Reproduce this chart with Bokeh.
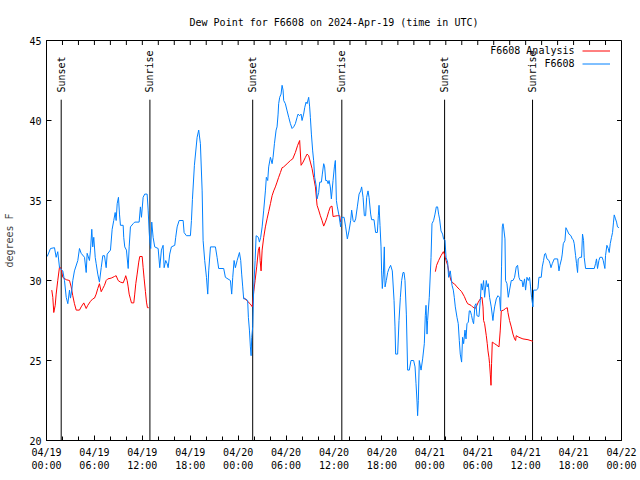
import math
from bokeh.plotting import figure
from bokeh.models import FixedTicker, Legend, LegendItem, Label, Range1d
from bokeh.core.properties import value
from bokeh.embed import file_html
from bokeh.resources import INLINE

TITLE = "Dew Point for F6608 on 2024-Apr-19 (time in UTC)"
Y_LABEL = "degrees F"
FONT = "DejaVu Sans Mono"

# F6608 observations (hours since 2024-04-19 00:00 UTC, dew point degF)
obs_hours = [0.09, 0.5, 1.0, 1.21, 1.41, 1.63, 2.04, 2.25, 2.47, 2.67, 2.88, 3.0, 3.17, 3.29, 3.5, 3.92,
             4.13, 4.34, 4.76, 4.97, 5.09, 5.38, 5.51, 5.67, 5.79, 5.92, 6.1, 6.22, 6.42, 6.63, 6.85, 7.05,
             7.26, 7.47, 7.6, 8.01, 8.22, 8.42, 8.6, 8.72, 8.85, 9.01, 9.14, 9.26, 9.6, 9.67, 9.8, 10.01,
             10.23, 10.35, 10.51, 10.85, 11.05, 11.6, 11.76, 11.89, 12.1, 12.3, 12.6, 12.73, 12.85, 12.93,
             13.05, 13.18, 13.35, 13.55, 13.98, 14.18, 14.39, 14.6, 14.73, 14.93, 15.11, 15.23, 15.43, 15.64,
             16.06, 16.18, 16.36, 16.61, 17.11, 17.23, 17.52, 18.02, 18.15, 18.27, 18.52, 18.86, 19.06, 19.27,
             19.49, 19.61, 19.81, 20.03, 20.19, 20.31, 20.53, 21.15, 21.36, 21.56, 22.19, 22.4, 23.03, 23.19,
             23.32, 23.49, 23.65, 23.87, 24.16, 24.32, 24.44, 24.57, 24.69, 24.94, 25.19, 25.28, 25.41, 25.53,
             25.62, 25.7, 25.82, 25.95, 26.12, 26.25, 26.53, 26.66, 26.82, 27.0, 27.2, 27.41, 27.53, 27.7,
             27.82, 28.04, 28.25, 28.37, 28.54, 28.75, 28.87, 29.0, 29.07, 29.2, 29.37, 29.5, 29.62, 29.7,
             29.91, 30.13, 30.33, 30.54, 30.75, 30.95, 31.16, 31.38, 31.5, 31.7, 31.88, 32.0, 32.2, 32.33,
             32.5, 32.63, 32.83, 32.95, 33.04, 33.17, 33.33, 33.45, 33.58, 33.79, 33.88, 34.08, 34.21, 34.42,
             34.54, 34.71, 34.83, 34.96, 35.13, 35.26, 35.38, 35.54, 35.67, 35.88, 36.05, 36.17, 36.3, 36.42,
             36.63, 36.83, 36.96, 37.26, 37.46, 37.67, 37.88, 38.09, 38.21, 38.39, 38.55, 38.71, 38.92, 39.14,
             39.34, 39.46, 39.64, 39.8, 39.96, 40.09, 40.26, 40.39, 40.59, 40.71, 41.01, 41.21, 41.43, 41.55,
             41.64, 41.76, 41.89, 41.96, 42.05, 42.18, 42.3, 42.39, 42.55, 42.72, 42.89, 43.09, 43.3, 43.52,
             43.64, 43.72, 43.97, 44.14, 44.31, 44.47, 44.64, 44.77, 44.89, 45.06, 45.22, 45.43, 45.64, 45.97,
             46.15, 46.27, 46.4, 46.47, 46.56, 46.68, 46.9, 47.1, 47.31, 47.43, 47.52, 47.65, 47.72, 47.93,
             48.15, 48.27, 48.47, 48.65, 48.81, 48.97, 49.1, 49.22, 49.4, 49.6, 49.72, 49.9, 50.03, 50.23,
             50.35, 50.56, 50.78, 50.94, 51.06, 51.19, 51.4, 51.56, 51.69, 51.81, 51.98, 52.1, 52.23, 52.4,
             52.53, 52.65, 52.82, 52.94, 53.07, 53.23, 53.35, 53.48, 53.65, 53.78, 53.9, 54.15, 54.32, 54.44,
             54.57, 54.73, 54.86, 55.07, 55.19, 55.32, 55.48, 55.69, 55.9, 55.98, 56.11, 56.32, 56.53, 56.73,
             56.86, 56.98, 57.07, 57.16, 57.23, 57.41, 57.48, 57.66, 57.82, 57.98, 58.2, 58.41, 58.61, 58.82,
             58.99, 59.16, 59.32, 59.54, 59.66, 59.86, 59.99, 60.16, 60.33, 60.49, 60.61, 60.74, 60.91, 60.99,
             61.33, 61.54, 61.66, 61.95, 62.08, 62.24, 62.37, 62.49, 62.67, 62.92, 63.05, 63.17, 63.33, 63.58,
             64.0, 64.17, 64.29, 64.49, 64.58, 64.71, 64.92, 65.04, 65.24, 65.42, 65.67, 65.83, 65.96, 66.08,
             66.25, 66.37, 66.5, 66.58, 66.8, 67.0, 67.12, 67.25, 67.33, 67.5, 68.59, 68.75, 68.87, 69.0,
             69.17, 69.3, 69.58, 69.71, 69.92, 70.0, 70.17, 70.34, 70.46, 70.59, 70.75, 70.88, 71.0, 71.09,
             71.25, 71.38, 71.5, 71.68]
obs_dewpt = [31.5, 32.0, 32.05, 31.45, 31.8, 30.8, 30.6, 30.0, 28.95, 28.55, 29.4, 28.9, 29.4, 30.0, 30.6, 31.25,
             32.0, 31.7, 31.45, 30.5, 31.7, 31.25, 31.9, 33.2, 32.1, 32.7, 31.45, 31.05, 30.4, 29.9, 30.8, 31.55,
             31.55, 30.8, 31.65, 31.9, 33.2, 33.75, 34.25, 33.75, 34.8, 35.2, 34.15, 33.45, 33.45, 32.7, 32.1, 31.9,
             30.75, 32.1, 33.35, 33.55, 33.65, 33.65, 34.6, 33.95, 35.2, 35.4, 35.4, 34.4, 33.1, 32.5,
             32.0, 33.65, 32.7, 32.1, 32.0, 30.8, 31.9, 32.2, 30.8, 31.25, 31.05, 30.8, 31.65, 32.1,
             32.2, 32.7, 33.35, 33.75, 33.75, 33.0, 32.8, 32.8, 33.75, 35.05, 37.2, 38.95, 39.4, 38.55,
             35.6, 32.5, 31.25, 30.2, 29.15, 30.6, 32.1, 32.1, 31.45, 30.75, 30.75, 30.2, 30.0, 29.15,
             30.2, 31.25, 30.8, 31.25, 31.75, 31.25, 30.4, 29.6, 28.85, 28.85, 28.75, 27.7, 26.9, 25.85,
             25.3, 26.45, 27.1, 29.6, 31.25, 32.8, 32.7, 32.4, 32.7, 33.35, 34.4, 35.6, 36.45, 36.25,
             37.1, 37.7, 37.3, 37.7, 38.55, 39.4, 39.6, 40.4, 41.05, 41.45, 41.65, 42.2, 41.9, 41.25,
             41.05, 40.6, 40.2, 39.8, 39.5, 39.6, 39.8, 40.2, 40.4, 40.3, 40.4, 40.0, 40.4, 40.8,
             41.15, 41.05, 41.45, 40.85, 40.2, 39.15, 38.1, 37.5, 36.45, 35.85, 35.1, 35.5, 36.15, 36.15,
             36.65, 37.3, 37.1, 36.25, 36.25, 36.05, 36.25, 35.85, 35.1, 36.25, 37.1, 37.5, 35.0, 34.6,
             34.05, 33.35, 33.95, 33.95, 33.35, 32.6, 33.1, 33.75, 34.4, 33.75, 33.65, 33.85, 34.6, 35.4,
             35.6, 35.85, 35.2, 34.05, 34.05, 35.2, 35.6, 35.2, 34.15, 33.8, 33.8, 33.0, 33.0, 34.05,
             34.7, 33.45, 32.1, 30.6, 29.5, 30.4, 32.1, 29.6, 30.0, 30.5, 30.75, 30.95, 30.6, 28.75,
             27.1, 25.4, 25.4, 27.5, 28.95, 30.0, 30.5, 30.5, 30.0, 27.9, 24.4, 24.4, 25.0, 25.0,
             24.6, 23.55, 22.4, 21.55, 22.5, 25.0, 24.4, 25.1, 26.05, 27.8, 28.45, 26.65, 27.5, 28.95,
             31.45, 33.55, 33.75, 34.15, 34.6, 34.6, 34.15, 33.85, 33.1, 32.9, 32.6, 32.5, 31.45, 31.15,
             30.2, 30.6, 29.7, 29.4, 28.95, 28.35, 27.7, 27.3, 26.25, 25.4, 24.9, 26.45, 26.05, 26.9,
             26.35, 27.3, 27.4, 28.1, 28.1, 27.8, 27.5, 27.3, 28.45, 28.55, 27.8, 27.75, 28.75, 29.8,
             29.4, 30.0, 28.95, 30.0, 29.6, 29.8, 28.95, 28.35, 27.5, 27.9, 28.35, 28.85, 29.05, 28.95,
             28.1, 30.85, 33.35, 33.55, 33.35, 32.6, 30.0, 29.8, 28.95, 29.4, 30.0, 30.0, 30.2, 30.85,
             30.95, 30.2, 30.0, 30.0, 29.6, 30.1, 29.4, 30.2, 30.0, 30.2, 29.6, 28.95, 28.35, 29.4,
             29.4, 29.5, 30.2, 30.2, 30.85, 31.25, 31.65, 31.7, 31.35, 31.25, 31.05, 30.8, 31.05, 31.35,
             31.35, 30.6, 30.95, 31.35, 31.65, 32.3, 32.5, 33.3, 33.1, 32.9, 32.8, 32.6, 32.55, 32.3,
             31.55, 31.05, 30.5, 31.35, 31.45, 31.45, 32.9, 32.5, 31.45, 30.75, 30.75, 31.05, 31.35, 30.75,
             31.25, 31.45, 31.45, 31.25, 30.75, 31.55, 32.2, 32.0, 31.75, 32.3, 32.7, 33.0, 33.65, 34.1,
             33.85, 33.65, 33.35, 33.3]

NAN = float("nan")
# F6608 Analysis (NaN marks the gaps where no analysis is available)
ana_hours = [0.66, 0.79, 0.91, 1.09, 1.21, 1.41, 1.63, 1.84, 2.04, 2.47, 2.88, 3.09, 3.29, 3.5, 3.72, 4.13,
             4.34, 4.67, 4.97, 5.17, 5.51, 5.79, 6.01, 6.22, 6.42, 6.63, 6.85, 7.05, 7.26, 7.47, 7.67, 8.1,
             8.51, 8.72, 8.97, 9.26, 9.6, 9.8, 9.92, 10.1, 10.23, 10.35, 10.51, 10.64, 10.93, 11.05, 11.18,
             11.35, 11.55, 11.68, 11.98, 12.1, 12.23, 12.39, 12.52, 12.64, 12.8, 18.0,
             24.66, 25.07, 25.49, 25.78, 25.95, 26.12, 26.32, 26.53, 26.66, 26.75, 26.87, 27.0, 27.2, 27.41,
             27.62, 27.82, 28.04, 28.25, 28.45, 28.66, 28.87, 29.07, 29.29, 29.5, 29.7, 30.13, 30.54, 30.83,
             31.16, 31.45, 31.7, 31.88, 32.13, 32.42, 32.63, 32.83, 33.04, 33.25, 33.45, 33.67, 33.88, 34.08,
             34.29, 34.5, 34.71, 34.92, 35.13, 35.33, 35.54, 35.75, 35.88, 36.42, 36.71, 36.83, 42.0,
             48.69, 48.85, 49.1, 49.4, 49.69, 49.81, 50.03, 50.23, 50.44, 50.65, 50.85, 51.06, 51.4, 51.69,
             51.98, 52.32, 52.53, 52.73, 53.15, 53.35, 53.69, 53.9, 54.07, 54.32, 54.53, 54.66, 54.73, 54.86,
             55.07, 55.19, 55.28, 55.4, 55.48, 55.57, 55.66, 55.73, 55.82, 56.11, 56.41, 56.66, 56.82, 56.95,
             57.23, 57.48, 57.7, 57.78, 57.98, 58.2, 58.41, 58.61, 58.74, 58.82, 59.16, 59.66, 60.29, 60.91]
ana_dewpt = [29.4, 28.95, 28.0, 28.45, 29.15, 30.0, 30.85, 30.75, 30.2, 30.05, 30.0, 29.6, 29.05, 28.55, 28.15, 28.15,
             28.35, 28.6, 28.25, 28.45, 28.7, 28.85, 28.9, 29.15, 29.5, 29.8, 29.3, 29.5, 29.7, 30.0, 30.1, 30.15,
             30.25, 30.3, 30.0, 29.9, 29.85, 30.1, 30.3, 30.0, 29.6, 29.15, 28.85, 28.6, 28.6, 29.15, 29.8,
             30.4, 31.15, 31.5, 31.5, 30.8, 30.1, 29.3, 28.65, 28.3, 28.3, NAN,
             28.95, 28.75, 28.55, 28.35, 29.3, 30.0, 30.85, 31.9, 32.1, 31.25, 30.6, 31.9, 32.7, 33.35,
             33.85, 34.3, 34.8, 35.3, 35.6, 35.85, 36.15, 36.45, 36.75, 37.05, 37.1, 37.3, 37.5, 37.6,
             38.0, 38.45, 38.75, 37.2, 37.4, 37.7, 37.9, 37.8, 37.4, 37.0, 36.45, 35.85, 34.7, 34.4,
             34.05, 33.75, 33.4, 33.65, 33.95, 34.3, 34.6, 34.65, 34.0, 34.05, 34.05, 33.65, NAN,
             30.55, 30.95, 31.25, 31.55, 31.8, 31.65, 31.25, 30.95, 30.4, 30.0, 29.85, 29.8, 29.6, 29.45,
             29.3, 29.0, 28.75, 28.55, 28.45, 28.35, 28.25, 28.45, 28.65, 28.85, 28.95, 28.35, 27.5, 27.3,
             26.55, 26.05, 25.6, 25.2, 24.8, 24.15, 23.45, 24.8, 26.15, 26.05, 25.95, 25.85, 26.9, 28.1,
             28.15, 28.25, 28.3, 28.0, 27.5, 27.1, 26.65, 26.35, 26.25, 26.55, 26.45, 26.35, 26.3, 26.2]

# Sunrise / sunset times (hours since 2024-04-19 00:00 UTC)
event_hours = [1.84, 12.95, 25.82, 36.98, 49.85, 60.86]
event_names = ["Sunset", "Sunrise", "Sunset", "Sunrise", "Sunset", "Sunrise"]

x_tick_hours = [0, 6, 12, 18, 24, 30, 36, 42, 48, 54, 60, 66, 72]
x_tick_labels = ["04/19\n00:00", "04/19\n06:00", "04/19\n12:00", "04/19\n18:00",
                 "04/20\n00:00", "04/20\n06:00", "04/20\n12:00", "04/20\n18:00",
                 "04/21\n00:00", "04/21\n06:00", "04/21\n12:00", "04/21\n18:00",
                 "04/22\n00:00"]
x_minor_hours = list(range(0, 73, 2))
y_ticks = [20, 25, 30, 35, 40, 45]

series_names = ["F6608 Analysis", "F6608"]
series_colors = ["#ff0000", "#0080ff"]

X0, X1, Y0, Y1 = 0, 72, 20, 45
p = figure(width=640, height=480, x_range=Range1d(X0, X1), y_range=Range1d(Y0, Y1),
           output_backend="svg", toolbar_location=None, title=TITLE,
           min_border_left=46, min_border_right=19, min_border_top=40, min_border_bottom=40)
p.title.align = "center"
p.title.text_font = FONT
p.title.text_font_size = "10px"
p.title.text_font_style = "normal"
p.title.text_color = "black"
p.title.standoff = 25
p.outline_line_color = "black"
p.outline_line_alpha = 1.0
p.xgrid.visible = False
p.ygrid.visible = False
p.background_fill_color = "white"
p.border_fill_color = "white"

def style_axis(ax):
    ax.major_tick_in = 5
    ax.major_tick_out = 0
    ax.minor_tick_in = 4
    ax.minor_tick_out = 0
    ax.axis_line_color = "black"
    ax.major_tick_line_color = "black"
    ax.minor_tick_line_color = "black"
    ax.major_label_text_font = FONT
    ax.major_label_text_font_size = "10px"
    ax.major_label_text_color = "black"

xa = p.xaxis[0]
xa.ticker = FixedTicker(ticks=x_tick_hours, minor_ticks=x_minor_hours)
xa.major_label_overrides = {h: lbl for h, lbl in zip(x_tick_hours, x_tick_labels)}
style_axis(xa)
xa.major_label_standoff = 6

ya = p.yaxis[0]
ya.ticker = FixedTicker(ticks=y_ticks, minor_ticks=[])
style_axis(ya)
ya.minor_tick_line_color = None
ya.axis_label = Y_LABEL
ya.axis_label_text_font = FONT
ya.axis_label_text_font_size = "10px"
ya.axis_label_text_font_style = "normal"
ya.axis_label_standoff = 11

# mirrored inward ticks on the top and right frame edges (about 4-5 px long)
TICK_Y = 4.5 / 16.0
TICK_X = 4.5 / 7.99
p.segment(x0=x_minor_hours, y0=Y1, x1=x_minor_hours, y1=Y1 - TICK_Y, line_color="black", line_width=1)
p.segment(x0=X1, y0=y_ticks, x1=X1 - TICK_X, y1=y_ticks, line_color="black", line_width=1)

# sunrise / sunset markers
LINE_TOP = 41.3
LABEL_Y = 41.75
p.segment(x0=event_hours, y0=Y0, x1=event_hours, y1=LINE_TOP, line_color="black", line_width=1)
p.text(x=event_hours, y=LABEL_Y, text=event_names, angle=math.pi / 2,
       text_align="left", text_baseline="middle", text_font=value(FONT),
       text_font_size="10px", text_color="black")

r_ana = p.line(ana_hours, ana_dewpt, line_color=series_colors[0], line_width=1)
r_obs = p.line(obs_hours, obs_dewpt, line_color=series_colors[1], line_width=1)

# legend: line samples at right, names right-aligned to their left (gnuplot style)
legend = Legend(items=[LegendItem(label=" ", renderers=[r_ana]),
                       LegendItem(label=" ", renderers=[r_obs])],
                location="top_right", glyph_width=28, glyph_height=13, label_height=13,
                label_width=7, label_standoff=0, padding=0, spacing=0, margin=4,
                background_fill_alpha=0, border_line_alpha=0,
                label_text_font=FONT, label_text_font_size="10px")
p.add_layout(legend)
for i, name in enumerate(series_names):
    p.add_layout(Label(x=X1, y=Y1, x_offset=-47, y_offset=-10 - 13 * i, text=name,
                       text_align="right", text_baseline="middle", text_font=FONT,
                       text_font_size="10px", text_color="black"))

open("out.html", "w").write(file_html(p, INLINE))
